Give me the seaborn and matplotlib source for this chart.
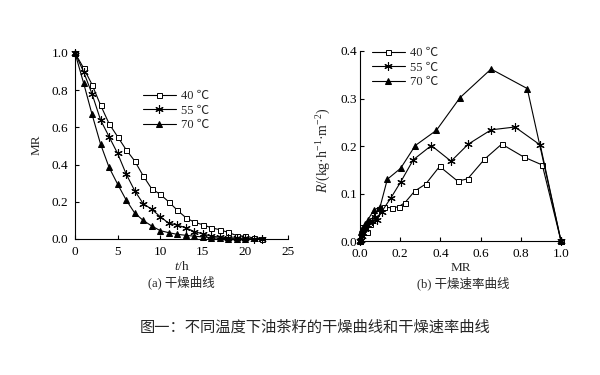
import matplotlib
matplotlib.use("Agg")
import matplotlib.pyplot as plt
import seaborn as sns

# ---- drying curve data (left) ----
t40 = list(range(23))
mr40 = [1.0, 0.92, 0.83, 0.72, 0.62, 0.55, 0.48, 0.42, 0.34, 0.27, 0.24, 0.20,
        0.155, 0.115, 0.09, 0.077, 0.06, 0.05, 0.035, 0.018, 0.015, 0.005, 0.0]
t55 = list(range(23))
mr55 = [1.0, 0.90, 0.78, 0.64, 0.55, 0.46, 0.35, 0.26, 0.19, 0.16, 0.12, 0.085,
        0.075, 0.06, 0.04, 0.027, 0.015, 0.01, 0.007, 0.005, 0.003, 0.001, 0.0]
t70 = list(range(21))
mr70 = [1.0, 0.84, 0.67, 0.51, 0.385, 0.295, 0.21, 0.14, 0.10, 0.07, 0.045,
        0.034, 0.025, 0.02, 0.015, 0.011, 0.007, 0.004, 0.002, 0.001, 0.0]

# ---- drying rate data (right) ----
rx40 = [1.0, 0.907, 0.814, 0.705, 0.619, 0.536, 0.486, 0.396, 0.327, 0.272, 0.224,
        0.192, 0.158, 0.121, 0.095, 0.078, 0.06, 0.048, 0.035, 0.02, 0.012, 0.005, 0.0]
ry40 = [0.0, 0.160, 0.177, 0.204, 0.172, 0.131, 0.126, 0.157, 0.120, 0.105, 0.081,
        0.072, 0.070, 0.071, 0.068, 0.060, 0.045, 0.035, 0.020, 0.030, 0.030, 0.010, 0.0]
rx55 = [1.0, 0.897, 0.771, 0.652, 0.539, 0.453, 0.355, 0.265, 0.202, 0.154, 0.108,
        0.085, 0.075, 0.058, 0.041, 0.025, 0.015, 0.01, 0.005, 0.0]
ry55 = [0.0, 0.202, 0.240, 0.234, 0.204, 0.168, 0.201, 0.171, 0.124, 0.091, 0.062,
        0.045, 0.05, 0.043, 0.033, 0.026, 0.016, 0.01, 0.002, 0.0]
rx70 = [1.0, 0.832, 0.652, 0.498, 0.380, 0.275, 0.202, 0.136, 0.100, 0.068, 0.04,
        0.025, 0.012, 0.005, 0.0]
ry70 = [0.0, 0.321, 0.362, 0.302, 0.233, 0.201, 0.153, 0.130, 0.072, 0.065, 0.045,
        0.035, 0.025, 0.02, 0.0]

labels = ["40 ℃", "55 ℃", "70 ℃"]

sns.set_theme(style="ticks")
plt.rcParams['font.family'] = ['Liberation Serif', 'Noto Sans CJK SC']
plt.rcParams['mathtext.fontset'] = 'custom'
plt.rcParams['mathtext.rm'] = 'Liberation Serif'
plt.rcParams['mathtext.it'] = 'Liberation Serif:italic'

fig = plt.figure(figsize=(6, 3.75), dpi=100)
ax1 = fig.add_axes([0.125, 0.3627, 0.355, 0.496])
ax2 = fig.add_axes([0.6, 0.3573, 0.335, 0.5067])

# marker styles for the three temperatures
styles = [dict(marker='s', markersize=3.6, markerfacecolor='white', markeredgecolor='black', markeredgewidth=0.7),
          dict(marker=(6, 2, 0), markersize=6, markeredgecolor='black', markeredgewidth=0.8),
          dict(marker='^', markersize=4.2, markerfacecolor='black', markeredgecolor='black')]

for x, y, lab, st in zip([t40, t55, t70], [mr40, mr55, mr70], labels, styles):
    sns.lineplot(x=x, y=y, ax=ax1, color='black', linewidth=0.8, label=lab,
                 sort=False, estimator=None, clip_on=False, **st)

for x, y, lab, st in zip([rx40, rx55, rx70], [ry40, ry55, ry70], labels, styles):
    sns.lineplot(x=x, y=y, ax=ax2, color='black', linewidth=0.8, label=lab,
                 sort=False, estimator=None, clip_on=False, **st)

for ax in (ax1, ax2):
    sns.despine(ax=ax)
    for s in ('left', 'bottom'):
        ax.spines[s].set_linewidth(0.8)
        ax.spines[s].set_color('black')
    ax.tick_params(direction='in', length=3, width=0.8, labelsize=9.5, colors='black')
    ax.tick_params(axis='x', pad=5)

ax1.tick_params(axis='y', pad=5)
ax2.tick_params(axis='y', pad=2)

ax1.set_xlim(0, 25)
ax1.set_ylim(0, 1.0)
ax1.set_xticks([0, 5, 10, 15, 20, 25])
ax1.set_yticks([0.0, 0.2, 0.4, 0.6, 0.8, 1.0])
ax1.set_yticklabels(["0.0", "0.2", "0.4", "0.6", "0.8", "1.0"])
ax1.set_xlabel("$t$/h", fontsize=9.5)
ax1.set_ylabel("MR", fontsize=9.5)
ax1.xaxis.set_label_coords(0.5, -0.115)
ax1.yaxis.set_label_coords(-0.15, 0.505)

ax2.set_xlim(0, 1.0)
ax2.set_ylim(0, 0.4)
ax2.set_xticks([0.0, 0.2, 0.4, 0.6, 0.8, 1.0])
ax2.set_xticklabels(["0.0", "0.2", "0.4", "0.6", "0.8", "1.0"])
ax2.set_yticks([0.0, 0.1, 0.2, 0.3, 0.4])
ax2.set_yticklabels(["0.0", "0.1", "0.2", "0.3", "0.4"])
ax2.set_xlabel("MR", fontsize=9.5)
ax2.set_ylabel("$R$/(kg·h$^{-1}$·m$^{-2}$)", fontsize=10)
ax2.xaxis.set_label_coords(0.5, -0.11)
ax2.yaxis.set_label_coords(-0.135, 0.48)

ax1.legend(loc='upper left', bbox_to_anchor=(0.32, 0.80), frameon=False, fontsize=9,
           borderaxespad=0, borderpad=0, handlelength=2.6, handletextpad=0.4, labelspacing=0.2)
ax2.legend(loc='upper left', bbox_to_anchor=(0.06, 1.02), frameon=False, fontsize=9,
           borderaxespad=0, borderpad=0, handlelength=2.6, handletextpad=0.4, labelspacing=0.2)

fig.text(0.302, 0.248, "(a) 干燥曲线", ha='center', va='center', fontsize=9)
fig.text(0.772, 0.245, "(b) 干燥速率曲线", ha='center', va='center', fontsize=9)
fig.text(0.525, 0.128, "图一：不同温度下油茶籽的干燥曲线和干燥速率曲线", ha='center', va='center',
         fontsize=11, family=['Noto Sans CJK SC', 'Liberation Serif'])

fig.savefig("out.png", dpi=100, facecolor='white')
